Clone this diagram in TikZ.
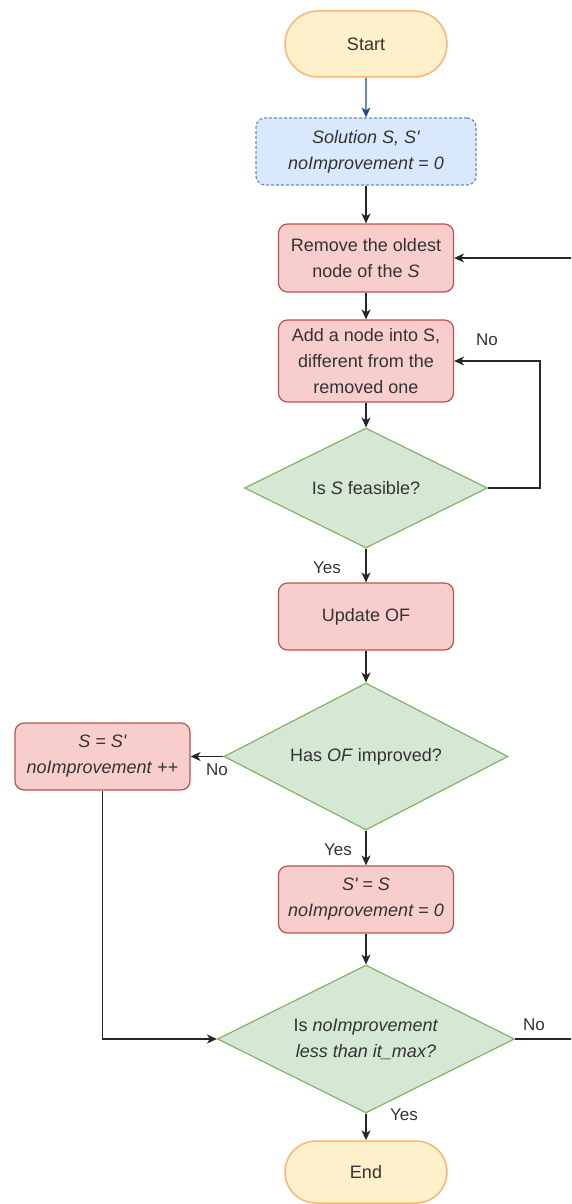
\documentclass[tikz,border=0pt]{standalone}
\usepackage{fontspec}
\newfontfamily\dfont{Liberation Sans}
\usetikzlibrary{arrows.meta,shapes.geometric,shapes.misc}
\definecolor{redfill}{HTML}{F8CECC}
\definecolor{redline}{HTML}{B85450}
\definecolor{greenfill}{HTML}{D5E8D4}
\definecolor{greenline}{HTML}{82B366}
\definecolor{bluefill}{HTML}{DAE8FC}
\definecolor{blueline}{HTML}{6C8EBF}
\definecolor{termfill}{HTML}{FFF0CC}
\definecolor{termline}{HTML}{FFB570}
\definecolor{txt}{HTML}{333333}
\definecolor{darkblue}{HTML}{1A4F8A}
\tikzset{
  base/.style={inner sep=0pt, align=center, text=txt, font=\dfont\fontsize{18}{26}\selectfont, line width=1.2pt},
  term/.style={base, rounded rectangle, draw=termline, fill=termfill, minimum width=162pt, minimum height=66pt, line width=1.5pt},
  proc/.style={base, rectangle, rounded corners=9pt, draw=redline, fill=redfill, minimum width=175pt, minimum height=67pt},
  init/.style={base, rectangle, rounded corners=9pt, draw=blueline, fill=bluefill, dashed, dash pattern=on 3pt off 2pt, minimum width=220pt, minimum height=67pt},
  dia/.style={base, diamond, draw=greenline, fill=greenfill},
  dtext/.style={base, draw=none, fill=none},
  lbl/.style={inner sep=0pt, text=txt, font=\dfont\fontsize{17}{20}\selectfont},
  conn/.style={line width=1.4pt, draw=black!85, -{Stealth[length=10pt,width=9pt,inset=3pt]}},
  plain/.style={line width=1.4pt, draw=black!85},
}
\begin{document}
\begin{tikzpicture}[x=1pt,y=-1pt]
\clip (0,0) rectangle (571,1204);
\useasboundingbox (0,0) rectangle (571,1204);

\node[term] (start) at (366,44) {Start};
\node[init] (sol) at (366,151.5) {\textit{Solution S, S'}\\\textit{noImprovement = 0}};
\node[proc, minimum height=68pt] (rem) at (366,258) {Remove the oldest\\node of the \textit{S}};
\node[proc, minimum height=82pt] (add) at (366,361) {Add a node into S,\\different from the\\removed one};
\node[dia, minimum width=243pt, minimum height=120pt] (d1) at (366,488) {};
\node[dtext] (d1t) at (d1.center) {Is \textit{S} feasible?};
\node[proc] (upd) at (366,616.5) {Update OF};
\node[dia, minimum width=284pt, minimum height=147pt] (d2) at (366,756.5) {};
\node[dtext] (d2t) at (d2.center) {Has \textit{OF} improved?};
\node[proc] (ss) at (102.5,756.5) {\textit{S = S'}\\\textit{noImprovement} ++};
\node[proc] (sp) at (366,899.5) {\textit{S' = S}\\\textit{noImprovement = 0}};
\node[dia, minimum width=297pt, minimum height=148pt] (d3) at (366,1039) {};
\node[dtext] (d3t) at (d3.center) {Is \textit{noImprovement}\\\textit{less than it\_max?}};
\node[term, minimum height=62pt] (end) at (366,1172) {End};

\coordinate (loop1) at (540,361);
\coordinate (edgeA) at (580,258);
\coordinate (edgeB) at (580,1039);

\draw[conn, draw=darkblue] (start) -- (sol);
\draw[conn] (sol) -- (rem);
\draw[conn] (rem) -- (add);
\draw[conn] (add) -- (d1);
\draw[conn] (d1.east) -| (loop1) -- (add.east);
\draw[conn] (d1) -- (upd);
\draw[conn] (upd) -- (d2);
\draw[conn] (d2.west) -- (ss.east);
\draw[conn] (d2) -- (sp);
\draw[conn] (sp) -- (d3);
\draw[conn] (ss.south) |- (d3.west);
\draw[conn] (d3) -- (end);
\draw[plain] (d3.east) -- (edgeB) -- (edgeA);
\draw[conn] (edgeA) -- (rem.east);

\node[lbl] (l1) at (487,340) {No};
\node[lbl] (l2) at (327,568) {Yes};
\node[lbl] (l3) at (217,770) {No};
\node[lbl] (l4) at (338,850) {Yes};
\node[lbl] (l5) at (534,1025) {No};
\node[lbl] (l6) at (404,1115) {Yes};
\end{tikzpicture}
\end{document}
